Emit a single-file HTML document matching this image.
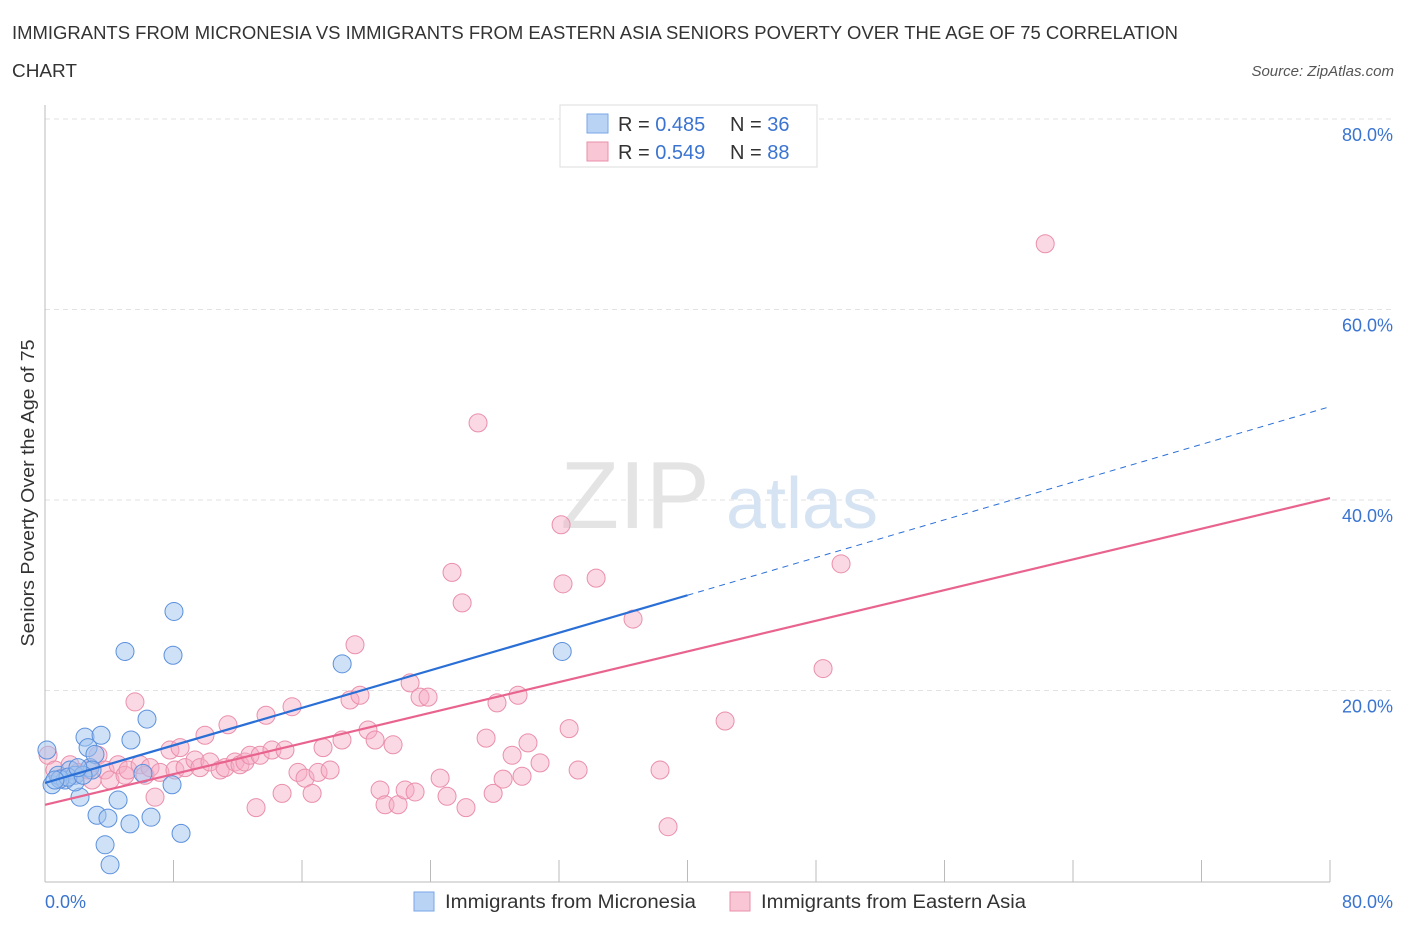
<!DOCTYPE html>
<html><head><meta charset="utf-8">
<style>
body{margin:0;background:#fff;font-family:"Liberation Sans",sans-serif;}
svg text{font-family:"Liberation Sans",sans-serif;}
</style></head>
<body>
<svg width="1406" height="930" xmlns="http://www.w3.org/2000/svg" id="chart">
<text x="12" y="39" font-size="18" fill="#333" textLength="1166" lengthAdjust="spacingAndGlyphs">IMMIGRANTS FROM MICRONESIA VS IMMIGRANTS FROM EASTERN ASIA SENIORS POVERTY OVER THE AGE OF 75 CORRELATION</text>
<text x="12" y="77" font-size="18" fill="#333" textLength="65" lengthAdjust="spacingAndGlyphs">CHART</text>
<text x="1394" y="76" font-size="15" fill="#555" font-style="italic" text-anchor="end">Source: ZipAtlas.com</text>
<g id="grid"></g>
<text x="635" y="528" font-size="96" fill="#e4e4e4" font-family="Liberation Serif" text-anchor="middle">ZIP</text>
<text x="802" y="528" font-size="72" fill="#d6e3f3" text-anchor="middle">atlas</text>
<line x1="45" y1="105" x2="45" y2="882" stroke="#bbb"/>
<line x1="45" y1="882" x2="1330" y2="882" stroke="#bbb"/>
<g id="xticks"></g>
<g id="ylabels"></g>
<text x="45" y="908" font-size="18" fill="#3a74d0">0.0%</text>
<text x="1393" y="908" font-size="18" fill="#3a74d0" text-anchor="end">80.0%</text>
<text transform="translate(34,493) rotate(-90)" font-size="18" fill="#333" text-anchor="middle" textLength="307" lengthAdjust="spacingAndGlyphs">Seniors Poverty Over the Age of 75</text>
<g id="pts"></g>
<g id="trends"></g>
<g>
<rect x="560" y="105" width="257" height="62" fill="#fff" stroke="#ddd"/>
<rect x="587" y="114" width="21" height="19" fill="#b9d3f5" stroke="#7aa6e6"/>
<rect x="587" y="142" width="21" height="19" fill="#f9c6d5" stroke="#ea8fab"/>
<text x="618" y="131" font-size="20" fill="#333">R = <tspan fill="#3a74d0">0.485</tspan><tspan x="730">N = </tspan><tspan fill="#3a74d0">36</tspan></text>
<text x="618" y="159" font-size="20" fill="#333">R = <tspan fill="#3a74d0">0.549</tspan><tspan x="730">N = </tspan><tspan fill="#3a74d0">88</tspan></text>
</g>
<g>
<rect x="414" y="892" width="20" height="19" fill="#b9d3f5" stroke="#7aa6e6"/>
<text x="445" y="908" font-size="19" fill="#333" textLength="251" lengthAdjust="spacingAndGlyphs">Immigrants from Micronesia</text>
<rect x="730" y="892" width="20" height="19" fill="#f9c6d5" stroke="#ea8fab"/>
<text x="761" y="908" font-size="19" fill="#333" textLength="265" lengthAdjust="spacingAndGlyphs">Immigrants from Eastern Asia</text>
</g>
</svg>
<script>
const yTicks=[20,40,60,80];
const yTickLabels=["20.0%","40.0%","60.0%","80.0%"];
const xTicks=[0,8,16,24,32,40,48,56,64,72,80];
const blueX=[0.12,0.44,0.81,1.25,1.56,1.87,2.18,2.49,2.68,2.8,3.11,3.24,3.49,3.74,3.92,4.05,4.55,4.98,5.29,5.35,6.1,6.35,6.6,7.91,8.03,7.97,8.47,18.5,32.2,1.87,0.93,1.43,2.93,0.62,2.37,2.05];
const blueY=[13.75,10.1,11.1,10.6,11.65,11.1,8.8,15.1,14.0,11.9,13.3,6.9,15.3,3.8,6.6,1.7,8.5,24.1,6.0,14.8,11.3,17.0,6.7,10.1,28.3,23.7,5.0,22.8,24.1,10.4,10.7,10.9,11.65,10.6,11.1,11.9];
const pinkX=[0.19,0.62,1.06,1.56,2.05,2.68,2.93,3.3,3.74,4.05,4.55,4.98,5.17,5.6,5.92,6.23,6.54,6.85,7.16,7.78,8.09,8.41,8.72,9.34,9.65,9.96,10.27,10.9,11.21,11.39,11.83,12.14,12.45,12.76,13.14,13.39,13.76,14.13,14.76,14.94,15.38,15.75,16.19,16.63,17.0,17.31,17.75,18.49,18.99,19.3,19.61,20.11,20.55,20.86,21.17,21.67,21.98,22.42,22.73,23.04,23.35,23.85,24.6,25.03,25.34,25.97,26.21,26.96,27.46,27.9,28.14,28.52,29.08,29.45,29.7,30.07,30.82,32.13,32.25,32.63,33.19,34.31,36.61,38.29,38.79,42.34,48.44,49.56,62.27];
const pinkY=[13.2,11.65,10.8,12.2,11.4,11.65,10.6,13.2,11.65,10.6,12.2,11.1,11.65,18.8,12.2,11.1,11.9,8.8,11.4,13.75,11.65,14.0,11.9,12.7,11.9,15.3,12.5,11.65,11.9,16.4,12.5,12.2,12.5,13.2,7.7,13.2,17.4,13.75,9.2,13.75,18.3,11.4,10.8,9.2,11.4,14.0,11.65,14.8,19.0,24.8,19.5,15.85,14.8,9.55,8.0,14.3,8.0,9.55,20.8,9.35,19.3,19.3,10.8,8.9,32.4,29.2,7.7,48.1,15.0,9.2,18.7,10.7,13.2,19.5,11.0,14.5,12.4,37.4,31.2,16.0,11.65,31.8,27.5,11.65,5.7,16.8,22.3,33.3,66.9];
const blueTrend=[10.3,30.0,49.8];   // y at x=0, 40, 80
const pinkTrend=[8.0,40.2];         // y at x=0, 80
const NS="http://www.w3.org/2000/svg";
const sx=v=>45+v*(1285/80);
const sy=v=>881-v*9.525;
function mk(tag,attrs,parent){const e=document.createElementNS(NS,tag);for(const k in attrs)e.setAttribute(k,attrs[k]);parent.appendChild(e);return e;}
const grid=document.getElementById('grid'),yl=document.getElementById('ylabels'),xt=document.getElementById('xticks');
yTicks.forEach((t,i)=>{
  const g=mk('line',{x1:45,x2:1394,y1:sy(t),y2:sy(t),stroke:'#e2e2e2','stroke-dasharray':'5,4'},grid);
  
  
  const tx=mk('text',{x:1393,y:sy(t)+22,'font-size':18,fill:'#3a74d0','text-anchor':'end'},yl);
  tx.textContent=yTickLabels[i];
  
  
});
xTicks.forEach(t=>{
  const l=mk('line',{x1:sx(t),x2:sx(t),y1:860,y2:882,stroke:'#bbb'},xt);
  
  
});
const pts=document.getElementById('pts');
pinkX.forEach((x,i)=>{
  const c=mk('circle',{cx:sx(x),cy:sy(pinkY[i]),r:9,fill:'rgba(246,170,195,0.45)',stroke:'#ea8fab','stroke-width':1},pts);
  
  
});
blueX.forEach((x,i)=>{
  const c=mk('circle',{cx:sx(x),cy:sy(blueY[i]),r:9,fill:'rgba(160,195,240,0.5)',stroke:'#5b90dd','stroke-width':1},pts);
  
  
});
const tr=document.getElementById('trends');
const b1=mk('line',{x1:sx(0),y1:sy(blueTrend[0]),x2:sx(40),y2:sy(blueTrend[1]),stroke:'#2a6fd6','stroke-width':2.2},tr);


const b2=mk('line',{x1:sx(40),y1:sy(blueTrend[1]),x2:sx(80),y2:sy(blueTrend[2]),stroke:'#2a6fd6','stroke-width':1,'stroke-dasharray':'6,5'},tr);


const p1=mk('line',{x1:sx(0),y1:sy(pinkTrend[0]),x2:sx(80),y2:sy(pinkTrend[1]),stroke:'#e8648f','stroke-width':2.2},tr);


</script>
</body></html>
